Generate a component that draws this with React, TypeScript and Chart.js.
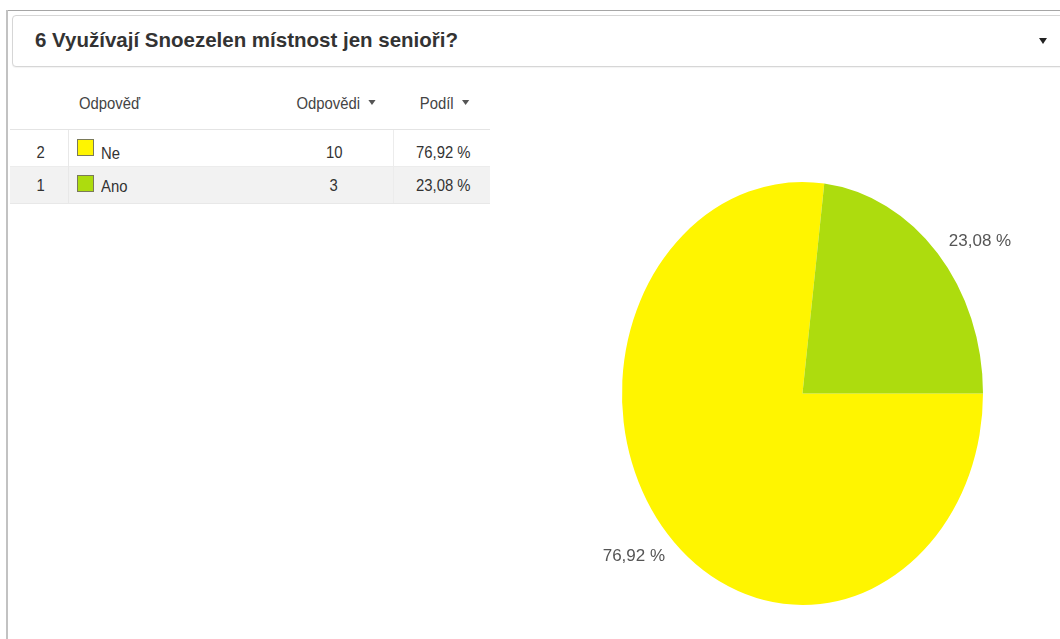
import React, { useEffect, useRef } from 'react';
import { Chart, registerables } from 'chart.js';

Chart.register(...registerables);

// ---- data ----
const titleText = '6 Využívají Snoezelen místnost jen senioři?';
const columnHeaders = ['Odpověď', 'Odpovědi', 'Podíl'];
const answerCodes = ['2', '1'];
const answers = ['Ne', 'Ano'];
const counts = [10, 3];
const sliceColors = ['#fff500', '#addc0e'];

const total = counts.reduce((a, b) => a + b, 0);
const fmtShare = (v: number) => ((v / total) * 100).toFixed(2).replace('.', ',') + ' %';

const Y_SCALE = 211.5 / 180.5;
const FONT = '"Liberation Sans", Arial, sans-serif';

const ellipsePlugin = {
  id: 'ellipsePie',
  beforeDatasetsDraw(chart: any) {
    const { ctx, chartArea } = chart;
    const cx = (chartArea.left + chartArea.right) / 2;
    const cy = (chartArea.top + chartArea.bottom) / 2;
    ctx.save();
    ctx.translate(cx, cy);
    ctx.scale(1, Y_SCALE);
    ctx.translate(-cx, -cy);
  },
  afterDatasetsDraw(chart: any) {
    const { ctx } = chart;
    ctx.restore();
    const meta = chart.getDatasetMeta(0);
    meta.data.forEach((arc: any, i: number) => {
      const p = arc.getProps(['startAngle', 'endAngle', 'outerRadius', 'x', 'y'], true);
      const mid = (p.startAngle + p.endAngle) / 2;
      const R = p.outerRadius + 15;
      let ly = p.y + Math.sin(mid) * R * Y_SCALE;
      const lower = Math.sin(mid) > 0.3;
      if (lower) ly += 11;
      // x placed on the label circle at the label's own height
      const yy = (ly - p.y) / Y_SCALE;
      const dx = Math.sqrt(Math.max(R * R - yy * yy, 0));
      const right = Math.cos(mid) >= 0;
      const lx = right ? p.x + Math.cos(mid) * R : p.x - dx;
      ctx.save();
      ctx.font = '17px ' + FONT;
      ctx.fillStyle = '#555555';
      ctx.textAlign = right ? 'left' : 'right';
      ctx.textBaseline = 'middle';
      ctx.fillText(fmtShare(counts[i]), lx, ly);
      ctx.restore();
    });
  },
};

function PieChart() {
  const ref = useRef<HTMLCanvasElement | null>(null);
  useEffect(() => {
    if (!ref.current) return;
    const chart = new Chart(ref.current, {
      type: 'pie',
      data: {
        labels: answers,
        datasets: [
          {
            data: counts,
            backgroundColor: sliceColors,
            borderWidth: 0,
            clip: false,
          } as any,
        ],
      },
      options: {
        animation: false,
        responsive: false,
        rotation: 90,
        layout: { padding: { left: 122, right: 77, top: 43, bottom: 65 } },
        plugins: {
          legend: { display: false },
          tooltip: { enabled: false },
        },
      },
      plugins: [ellipsePlugin],
    });
    return () => chart.destroy();
  }, []);
  return (
    <canvas
      ref={ref}
      width={560}
      height={469}
      style={{ position: 'absolute', left: 500, top: 170, width: 560, height: 469 }}
    />
  );
}

function Txt(props: {
  x: number;
  w?: number;
  baseline: number;
  size: number;
  align?: 'left' | 'center' | 'right';
  bold?: boolean;
  color?: string;
  sx?: number;
  children: React.ReactNode;
}) {
  const { x, w, baseline, size, align = 'left', bold, color = '#333', sx = 1, children } = props;
  return (
    <div
      style={{
        position: 'absolute',
        left: x,
        width: w,
        top: baseline - 0.8465 * size,
        fontSize: size,
        lineHeight: size + 'px',
        fontWeight: bold ? 'bold' : 'normal',
        textAlign: align,
        color,
        whiteSpace: 'nowrap',
      }}
    >
      <span
        style={{
          display: 'inline-block',
          transform: sx !== 1 ? `scaleX(${sx})` : undefined,
          transformOrigin: align === 'left' ? 'left center' : align === 'right' ? 'right center' : 'center center',
        }}
      >
        {children}
      </span>
    </div>
  );
}

function Caret({ color = '#555' }: { color?: string }) {
  return (
    <span
      style={{
        display: 'inline-block',
        width: 0,
        height: 0,
        borderLeft: '4.5px solid transparent',
        borderRight: '4.5px solid transparent',
        borderTop: '5px solid ' + color,
        marginLeft: 9,
        verticalAlign: 'middle',
        position: 'relative',
        top: -2,
      }}
    />
  );
}

const TS = 16.5;
const SX = 0.9;

export default function App() {
  const rowBaselines = [159, 192];
  const swatchTops = [139, 175];
  return (
    <div
      style={{
        position: 'absolute',
        left: 0,
        top: 0,
        width: 1060,
        height: 639,
        overflow: 'hidden',
        background: '#ffffff',
        fontFamily: FONT,
      }}
    >
      {/* outer frame */}
      <div style={{ position: 'absolute', left: 6, top: 10, width: 1100, height: 1, background: '#a6a6a6' }} />
      <div style={{ position: 'absolute', left: 6, top: 10, width: 2, height: 640, background: '#c2c2c2' }} />

      {/* header box */}
      <div
        style={{
          position: 'absolute',
          left: 12,
          top: 15,
          width: 1080,
          height: 50,
          border: '1px solid #d6d6d6',
          borderRadius: 4,
          boxShadow: '0 1px 1px rgba(0,0,0,0.05)',
          background: '#fff',
        }}
      />
      <Txt x={35} baseline={47} size={20.5} bold color="#333">
        {titleText}
      </Txt>
      <div
        style={{
          position: 'absolute',
          left: 1039,
          top: 38,
          width: 0,
          height: 0,
          borderLeft: '4.5px solid transparent',
          borderRight: '4.5px solid transparent',
          borderTop: '6px solid #222',
        }}
      />

      {/* table */}
      <div style={{ position: 'absolute', left: 10, top: 167, width: 480, height: 36, background: '#f2f2f2' }} />
      <div style={{ position: 'absolute', left: 10, top: 129, width: 480, height: 1, background: '#e4e4e4' }} />
      <div style={{ position: 'absolute', left: 10, top: 166, width: 480, height: 1, background: '#ececec' }} />
      <div style={{ position: 'absolute', left: 10, top: 203, width: 480, height: 1, background: '#e8e8e8' }} />
      <div style={{ position: 'absolute', left: 68, top: 130, width: 1, height: 73, background: '#e8e8e8' }} />
      <div style={{ position: 'absolute', left: 393, top: 130, width: 1, height: 73, background: '#ececec' }} />

      <Txt x={79} baseline={109} size={TS} sx={SX} color="#444">
        {columnHeaders[0]}
      </Txt>
      <Txt x={276} w={120} baseline={109} size={TS} sx={SX} align="center" color="#444">
        {columnHeaders[1]}
        <Caret />
      </Txt>
      <Txt x={394} w={100} baseline={109} size={TS} sx={SX} align="center" color="#444">
        {columnHeaders[2]}
        <Caret />
      </Txt>

      {answers.map((a, i) => (
        <React.Fragment key={a}>
          <Txt x={20} w={41} baseline={rowBaselines[i] - 1} size={TS} sx={SX} align="center">
            {answerCodes[i]}
          </Txt>
          <div
            style={{
              position: 'absolute',
              left: 77,
              top: swatchTops[i],
              width: 15,
              height: 15,
              background: sliceColors[i],
              border: '1px solid #7a7a5a',
            }}
          />
          <Txt x={101} baseline={rowBaselines[i]} size={TS} sx={SX}>
            {a}
          </Txt>
          <Txt x={294} w={80} baseline={rowBaselines[i] - 1} size={TS} sx={SX} align="center">
            {String(counts[i])}
          </Txt>
          <Txt x={394} w={98} baseline={rowBaselines[i] - 1} size={TS} sx={SX} align="center">
            {fmtShare(counts[i])}
          </Txt>
        </React.Fragment>
      ))}

      <PieChart />
    </div>
  );
}
